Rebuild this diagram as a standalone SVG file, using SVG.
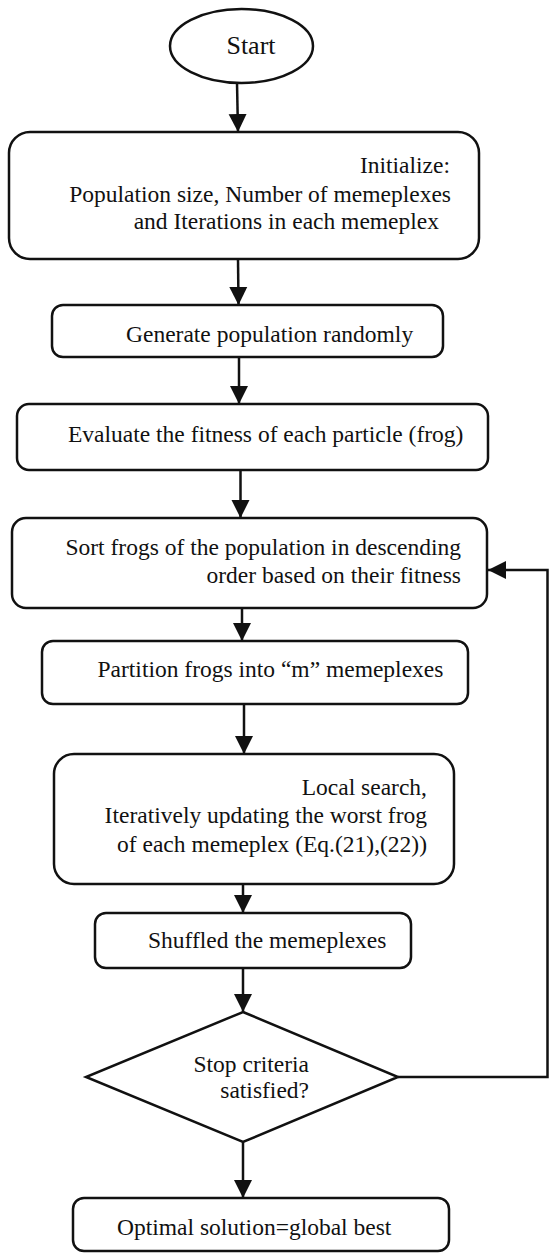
<svg xmlns="http://www.w3.org/2000/svg" width="550" height="1254" viewBox="0 0 550 1254">
<style>
.n{fill:#fff;stroke:#111;stroke-width:2.5}
.t{font-family:"Liberation Serif","Times New Roman",serif;font-size:23.5px;fill:#111}
.c{fill:none;stroke:#111;stroke-width:2.5}
</style>
<defs>
<marker id="ah" markerUnits="userSpaceOnUse" markerWidth="20" markerHeight="20" viewBox="0 0 20 20" refX="18" refY="10" orient="auto">
<path d="M0,1 L18,10 L0,19 Z" fill="#111"/>
</marker>
</defs>
<rect width="550" height="1254" fill="#fff"/>
<g id="connectors">
<path class="c" d="M237,83 L238,132" marker-end="url(#ah)"/>
<path class="c" d="M238,259 L238.5,305" marker-end="url(#ah)"/>
<path class="c" d="M239,357 L239,404" marker-end="url(#ah)"/>
<path class="c" d="M240.5,470 L240.5,518" marker-end="url(#ah)"/>
<path class="c" d="M242,608 L242,641" marker-end="url(#ah)"/>
<path class="c" d="M244,704 L244,754" marker-end="url(#ah)"/>
<path class="c" d="M243,884 L243,913" marker-end="url(#ah)"/>
<path class="c" d="M243,968 L243,1012" marker-end="url(#ah)"/>
<path class="c" d="M243,1142 L243,1198" marker-end="url(#ah)"/>
<path class="c" d="M398,1077 L547.5,1077 L547.5,570 L488,570" marker-end="url(#ah)"/>
</g>
<g id="start">
<ellipse class="n" cx="241.5" cy="46" rx="71.5" ry="37"/>
<text class="t" x="251" y="54" text-anchor="middle" style="font-size:26px">Start</text>
</g>
<g id="init">
<rect class="n" x="9" y="132" width="470" height="127" rx="21"/>
<text class="t" x="450" y="173" text-anchor="end">Initialize:</text>
<text class="t" x="451" y="202" text-anchor="end">Population size, Number of memeplexes</text>
<text class="t" x="439" y="229" text-anchor="end">and Iterations in each memeplex</text>
</g>
<g id="generate">
<rect class="n" x="52" y="305" width="391" height="52" rx="11"/>
<text class="t" x="126" y="342">Generate population randomly</text>
</g>
<g id="evaluate">
<rect class="n" x="17" y="404" width="471" height="66" rx="12"/>
<text class="t" x="68" y="442">Evaluate the fitness of each particle (frog)</text>
</g>
<g id="sort">
<rect class="n" x="12" y="518" width="475" height="90" rx="14"/>
<text class="t" x="461" y="555" text-anchor="end">Sort frogs of the population in descending</text>
<text class="t" x="461" y="583" text-anchor="end">order based on their fitness</text>
</g>
<g id="partition">
<rect class="n" x="42" y="641" width="426" height="63" rx="11"/>
<text class="t" x="97.5" y="677">Partition frogs into “m” memeplexes</text>
</g>
<g id="local">
<rect class="n" x="54" y="754" width="400" height="130" rx="20"/>
<text class="t" x="427" y="795" text-anchor="end">Local search,</text>
<text class="t" x="427" y="823" text-anchor="end">Iteratively updating the worst frog</text>
<text class="t" x="427" y="852" text-anchor="end">of each memeplex (Eq.(21),(22))</text>
</g>
<g id="shuffle">
<rect class="n" x="95" y="913" width="316" height="55" rx="11"/>
<text class="t" x="148" y="948">Shuffled the memeplexes</text>
</g>
<g id="stop">
<path class="n" d="M243,1012 L398,1077 L243,1142 L86,1077 Z"/>
<text class="t" x="309" y="1072" text-anchor="end">Stop criteria</text>
<text class="t" x="309" y="1098" text-anchor="end">satisfied?</text>
</g>
<g id="optimal">
<rect class="n" x="73" y="1198" width="376" height="53" rx="11"/>
<text class="t" x="117" y="1235">Optimal solution=global best</text>
</g>
</svg>
